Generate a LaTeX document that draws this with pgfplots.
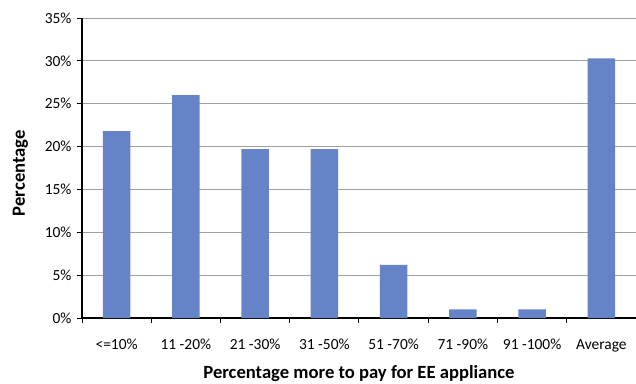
\documentclass[border=0pt]{standalone}
\usepackage{pgfplots}
\pgfplotsset{compat=1.18}
\usepackage{fontspec}
\setmainfont{Carlito}
\definecolor{barblue}{RGB}{103,131,199}
\definecolor{gridgrey}{RGB}{160,160,160}
\begin{document}
\begin{tikzpicture}
\path[use as bounding box] (-82bp,-66bp) rectangle (554bp,300bp+18bp);
\begin{axis}[
  at={(0,0)}, anchor=south west,
  scale only axis,
  width=554bp, height=300bp,
  ybar, bar width=27.4bp,
  xmin=-0.5, xmax=7.5,
  ymin=0, ymax=35,
  axis lines*=left,
  axis line style={-, black, line width=1.2pt},
  xtick={0,...,7},
  xticklabels={<=10\%, 11 -20\%, 21 -30\%, 31 -50\%, 51 -70\%, 71 -90\%, 91 -100\%, Average},
  major x tick style={draw=none},
  minor xtick={-0.5,0.5,...,6.5},
  minor tick length=5bp,
  minor x tick style={black, line width=1pt},
  xtick pos=bottom,
  tick align=outside,
  tick label style={font=\fontsize{15.5}{18}\selectfont},
  xticklabel style={anchor=base, yshift=-26bp},
  ytick={0,5,...,35},
  yticklabels={0\%,5\%,10\%,15\%,20\%,25\%,30\%,35\%},
  ytick pos=left,
  major tick length=5bp,
  major y tick style={black, line width=1pt},
  yticklabel style={xshift=-2bp},
  ymajorgrids,
  major grid style={gridgrey, line width=1pt},
  xlabel={Percentage more to pay for EE appliance},
  ylabel={Percentage},
  label style={font=\fontsize{18.7}{22}\selectfont\bfseries},
  xlabel style={at={(axis description cs:0.5,0)}, anchor=base, yshift=-60.5bp},
  ylabel style={at={(axis description cs:-0.1029,0.483)}, anchor=base, rotate=0},
  clip=false,
]
\addplot[fill=barblue, draw=none, bar shift=0pt] coordinates {
  (0,21.8) (1,26.0) (2,19.7) (3,19.7) (4,6.2) (5,1.0) (6,1.0) (7,30.3)
};
\end{axis}
\end{tikzpicture}
\end{document}
